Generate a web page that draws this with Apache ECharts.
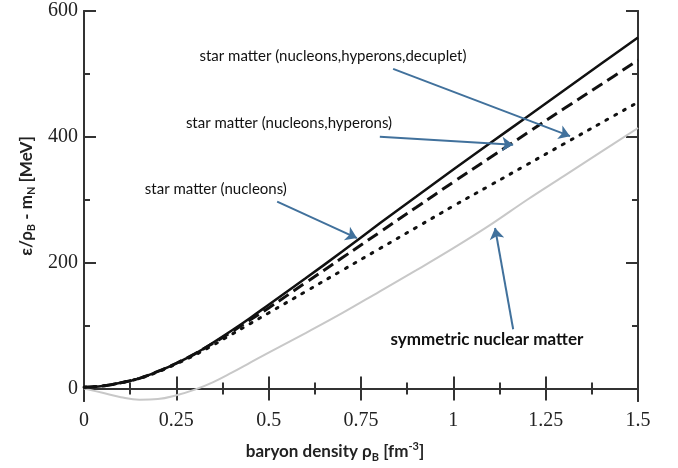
<!DOCTYPE html>
<html>
<head>
<meta charset="utf-8">
<script src="https://cdn.jsdelivr.net/npm/echarts@6/dist/echarts.min.js"></script>
<style>html,body{margin:0;padding:0;background:#fff;}#c{width:678px;height:468px;}</style>
</head>
<body>
<div id="c"></div>
<script>
// ---- data ----
const densities = [0, 0.05, 0.1, 0.15, 0.2, 0.25, 0.3, 0.35, 0.4, 0.45, 0.5, 0.6, 0.7, 0.8, 0.9, 1.0, 1.1, 1.2, 1.3, 1.4, 1.5];
const nucleons  = [2, 4, 9, 16, 27, 40, 55, 73, 92, 112, 133, 175, 218, 262, 305, 348, 390, 432, 474, 516, 558];
const hyperons  = [2, 4, 9, 16, 27, 40, 55, 72, 90, 109, 128, 168, 208, 248, 288, 328, 367, 406, 445, 483, 522];
const decuplet  = [2, 4, 9, 16, 26, 39, 53, 69, 86, 103, 120, 154, 188, 222, 256, 290, 323, 356, 389, 422, 455];
const symmetric = [0, -7, -14, -18, -17, -11, -2, 10, 25, 41, 57, 88, 120, 154, 188, 223, 260, 300, 338, 376, 414];

const yMajorTicks = [0, 200, 400, 600];
const yMinorTicks = [100, 300, 500];

const labelTexts = ['star matter (nucleons,hyperons,decuplet)', 'star matter (nucleons,hyperons)', 'star matter (nucleons)', 'symmetric nuclear matter'];
const labelAnchors = [[0.674, 528], [0.555, 422], [0.357, 317], [1.091, 77]];
const arrowTails = [[0.837, 508], [0.801, 400], [0.523, 297], [1.162, 94]];
const arrowHeads = [[1.316, 401], [1.162, 387.5], [0.739, 239], [1.113, 255]];

function pairs(ys) { return densities.map((x, i) => [x, ys[i]]); }

const AX = '#333';
const serif = 'Liberation Serif';
const sans = 'Lato';

const xBase = {
  type: 'value', min: 0, max: 1.5, interval: 0.25,
  axisLine: { show: true, lineStyle: { color: AX, width: 2 } },
  axisTick: { show: true, inside: true, length: 12, lineStyle: { color: AX, width: 2 } },
  minorTick: { show: true, splitNumber: 2, length: 6, lineStyle: { color: AX, width: 2 } },
  splitLine: { show: false }, minorSplitLine: { show: false }
};
const yBase = {
  type: 'value', min: -20, max: 600,
  axisLine: { show: true, lineStyle: { color: AX, width: 2 } },
  splitLine: { show: false }
};

const chart = echarts.init(document.getElementById('c'), null, { renderer: 'canvas' });
chart.setOption({
  animation: false,
  backgroundColor: '#fff',
  grid: { left: 84, right: 40, top: 11, bottom: 61, containLabel: false },
  xAxis: [
    Object.assign({}, xBase, {
      position: 'bottom',
      axisLabel: { show: true, margin: 10, color: '#222', fontFamily: serif, fontSize: 20 },
      name: '{a|baryon density ρ}{s|B}{a| [fm}{p|-3}{a|]}',
      nameLocation: 'middle', nameGap: 40,
      nameTextStyle: {
        padding: [0, 52, 0, 0],
        rich: {
          a: { fontFamily: sans, fontSize: 17, fontWeight: 'bold', color: '#222', lineHeight: 22, verticalAlign: 'middle' },
          s: { fontFamily: sans, fontSize: 11, fontWeight: 'bold', color: '#222', lineHeight: 11, verticalAlign: 'bottom' },
          p: { fontFamily: sans, fontSize: 11, fontWeight: 'bold', color: '#222', lineHeight: 11, verticalAlign: 'top' }
        }
      }
    }),
    Object.assign({}, xBase, { position: 'top', axisLabel: { show: false } })
  ],
  yAxis: [
    Object.assign({}, yBase, {
      position: 'left',
      axisTick: { show: true, inside: true, length: 12, customValues: yMajorTicks, lineStyle: { color: AX, width: 2 } },
      axisLabel: { show: true, margin: 6, customValues: yMajorTicks, color: '#222', fontFamily: serif, fontSize: 20 },
      name: '{a|ε/ρ}{s|B}{a| - m}{s|N}{a| [MeV]}',
      nameLocation: 'middle', nameGap: 41, nameRotate: 90,
      nameTextStyle: {
        padding: [0, 0, 0, 20],
        rich: {
          a: { fontFamily: sans, fontSize: 17, fontWeight: 'bold', color: '#222', lineHeight: 22, verticalAlign: 'middle' },
          s: { fontFamily: sans, fontSize: 11, fontWeight: 'bold', color: '#222', lineHeight: 11, verticalAlign: 'bottom' }
        }
      }
    }),
    Object.assign({}, yBase, {
      position: 'left',
      axisTick: { show: true, inside: true, length: 6, customValues: yMinorTicks, lineStyle: { color: AX, width: 2 } },
      axisLabel: { show: false }
    }),
    Object.assign({}, yBase, {
      position: 'right',
      axisTick: { show: true, inside: true, length: 12, customValues: yMajorTicks, lineStyle: { color: AX, width: 2 } },
      axisLabel: { show: false }
    }),
    Object.assign({}, yBase, {
      position: 'right',
      axisTick: { show: true, inside: true, length: 6, customValues: yMinorTicks, lineStyle: { color: AX, width: 2 } },
      axisLabel: { show: false }
    })
  ],
  series: [
    { name: 'symmetric nuclear matter', type: 'line', smooth: 0.4, showSymbol: false, silent: true,
      data: pairs(symmetric), lineStyle: { color: '#c8c8c8', width: 2 } },
    { name: 'star matter (nucleons,hyperons,decuplet)', type: 'line', smooth: 0.4, showSymbol: false, silent: true,
      data: pairs(decuplet), lineStyle: { color: '#111', width: 3, type: [2, 8], cap: 'round' } },
    { name: 'star matter (nucleons,hyperons)', type: 'line', smooth: 0.4, showSymbol: false, silent: true,
      data: pairs(hyperons), lineStyle: { color: '#111', width: 3, type: [12, 6] } },
    { name: 'star matter (nucleons)', type: 'line', smooth: 0.4, showSymbol: false, silent: true,
      data: pairs(nucleons), lineStyle: { color: '#111', width: 2.5 } },
    { name: 'annotations', type: 'line', data: [], silent: true,
      markLine: {
        silent: true, animation: false,
        symbol: ['none', 'arrow'], symbolSize: 11,
        label: { show: false },
        lineStyle: { color: '#41719c', width: 2, type: 'solid' },
        data: arrowTails.map((t, i) => [{ coord: t }, { coord: arrowHeads[i] }])
      },
      markPoint: {
        silent: true, animation: false,
        symbol: 'circle', symbolSize: 0,
        label: { show: true, position: 'inside', color: '#111', fontFamily: sans, fontSize: 15 },
        data: labelTexts.map((t, i) => ({
          coord: labelAnchors[i], value: t,
          label: i === 3 ? { formatter: t, fontSize: 17, fontWeight: 'bold' } : { formatter: t }
        }))
      }
    }
  ]
});
</script>
</body>
</html>
